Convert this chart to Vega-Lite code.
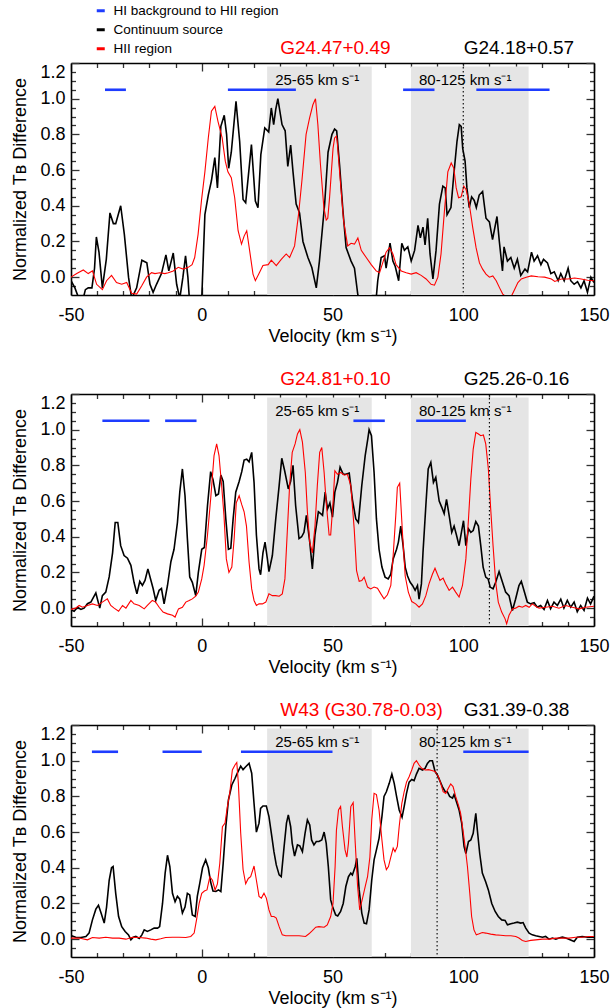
{
  "$schema": "https://vega.github.io/schema/vega-lite/v6.json",
  "autosize": {"type": "none"},
  "padding": {"left": 71, "top": 63, "right": 542, "bottom": 945},
  "background": "white",
  "spacing": 99,
  "bounds": "flush",
  "datasets": {
    "regions": [
      {"lo": 25, "hi": 65, "label": "25-65 km s⁻¹"},
      {"lo": 80, "hi": 125, "label": "80-125 km s⁻¹"}
    ],
    "hiSegments": [
      {"panel": 1, "series": "HI background to HII region", "from": -37, "to": -29},
      {"panel": 1, "series": "HI background to HII region", "from": 10, "to": 36},
      {"panel": 1, "series": "HI background to HII region", "from": 77, "to": 89},
      {"panel": 1, "series": "HI background to HII region", "from": 105, "to": 133},
      {"panel": 2, "series": "HI background to HII region", "from": -38, "to": -20},
      {"panel": 2, "series": "HI background to HII region", "from": -14, "to": -2},
      {"panel": 2, "series": "HI background to HII region", "from": 58, "to": 70},
      {"panel": 2, "series": "HI background to HII region", "from": 82, "to": 101},
      {"panel": 3, "series": "HI background to HII region", "from": -42, "to": -32},
      {"panel": 3, "series": "HI background to HII region", "from": -15, "to": 0},
      {"panel": 3, "series": "HI background to HII region", "from": 15, "to": 50},
      {"panel": 3, "series": "HI background to HII region", "from": 100, "to": 125}
    ],
    "markers": [
      {"panel": 1, "v": 100},
      {"panel": 2, "v": 110},
      {"panel": 3, "v": 90}
    ],
    "sources": [
      {"panel": 1, "name": "G24.47+0.49", "series": "HII region", "v": 30},
      {"panel": 1, "name": "G24.18+0.57", "series": "Continuum source", "v": 100.2},
      {"panel": 2, "name": "G24.81+0.10", "series": "HII region", "v": 30},
      {"panel": 2, "name": "G25.26-0.16", "series": "Continuum source", "v": 100.2},
      {"panel": 3, "name": "W43 (G30.78-0.03)", "series": "HII region", "v": 30},
      {"panel": 3, "name": "G31.39-0.38", "series": "Continuum source", "v": 100.2}
    ],
    "continuum": [
      {"panel":1,"v":-50,"tb":-0.02},{"panel":1,"v":-48.5,"tb":-0.06},{"panel":1,"v":-47,"tb":-0.12},{"panel":1,"v":-45.5,"tb":-0.13},{"panel":1,"v":-44.5,"tb":-0.07},{"panel":1,"v":-43.4,"tb":-0.06},{"panel":1,"v":-42,"tb":-0.06},{"panel":1,"v":-41,"tb":0.05},{"panel":1,"v":-40.3,"tb":0.225},{"panel":1,"v":-39.3,"tb":0.14},{"panel":1,"v":-38,"tb":-0.06},{"panel":1,"v":-36.5,"tb":0.1},{"panel":1,"v":-35.1,"tb":0.36},{"panel":1,"v":-33.8,"tb":0.3},{"panel":1,"v":-32.9,"tb":0.3},{"panel":1,"v":-31,"tb":0.4},{"panel":1,"v":-29.6,"tb":0.24},{"panel":1,"v":-28,"tb":0.0},{"panel":1,"v":-26.8,"tb":-0.12},{"panel":1,"v":-24.9,"tb":-0.06},{"panel":1,"v":-22.9,"tb":0.095},{"panel":1,"v":-21,"tb":0.08},{"panel":1,"v":-19.8,"tb":-0.04},{"panel":1,"v":-18.6,"tb":-0.085},{"panel":1,"v":-17.3,"tb":-0.04},{"panel":1,"v":-15.4,"tb":0.02},{"panel":1,"v":-13.7,"tb":0.125},{"panel":1,"v":-12.6,"tb":0.035},{"panel":1,"v":-10.9,"tb":0.135},{"panel":1,"v":-9.6,"tb":-0.04},{"panel":1,"v":-8.4,"tb":-0.12},{"panel":1,"v":-7.2,"tb":0.0},{"panel":1,"v":-6.2,"tb":0.12},{"panel":1,"v":-5.3,"tb":0.0},{"panel":1,"v":-4.6,"tb":-0.15},{"panel":1,"v":-2,"tb":-0.25},{"panel":1,"v":0,"tb":-0.12},{"panel":1,"v":1.2,"tb":0.35},{"panel":1,"v":2.5,"tb":0.46},{"panel":1,"v":3.7,"tb":0.54},{"panel":1,"v":5,"tb":0.67},{"panel":1,"v":6,"tb":0.5},{"panel":1,"v":7.3,"tb":0.845},{"panel":1,"v":8.6,"tb":0.907},{"panel":1,"v":9.5,"tb":0.8},{"panel":1,"v":10.3,"tb":0.61},{"panel":1,"v":11.3,"tb":0.7},{"panel":1,"v":13.1,"tb":0.985},{"panel":1,"v":14.5,"tb":0.76},{"panel":1,"v":15.8,"tb":0.435},{"panel":1,"v":16.8,"tb":0.417},{"panel":1,"v":19,"tb":0.743},{"panel":1,"v":20.5,"tb":0.426},{"panel":1,"v":21.5,"tb":0.389},{"panel":1,"v":22.6,"tb":0.687},{"panel":1,"v":24.1,"tb":0.836},{"panel":1,"v":25.6,"tb":0.814},{"panel":1,"v":26.6,"tb":0.948},{"panel":1,"v":27.5,"tb":0.855},{"panel":1,"v":28.3,"tb":0.94},{"panel":1,"v":29.1,"tb":1.0},{"panel":1,"v":30.7,"tb":0.855},{"panel":1,"v":31.9,"tb":0.82},{"panel":1,"v":32.9,"tb":0.62},{"panel":1,"v":34,"tb":0.74},{"panel":1,"v":34.9,"tb":0.59},{"panel":1,"v":36.1,"tb":0.41},{"panel":1,"v":37.4,"tb":0.36},{"panel":1,"v":38.7,"tb":0.2},{"panel":1,"v":40.6,"tb":0.11},{"panel":1,"v":42.1,"tb":0.054},{"panel":1,"v":43.8,"tb":-0.06},{"panel":1,"v":45,"tb":0.09},{"panel":1,"v":47,"tb":0.41},{"panel":1,"v":48.3,"tb":0.7},{"panel":1,"v":49.8,"tb":0.8},{"panel":1,"v":50.8,"tb":0.83},{"panel":1,"v":51.6,"tb":0.82},{"panel":1,"v":52.7,"tb":0.63},{"panel":1,"v":54,"tb":0.37},{"panel":1,"v":55.2,"tb":0.166},{"panel":1,"v":57.1,"tb":0.09},{"panel":1,"v":58.4,"tb":0.05},{"panel":1,"v":59.7,"tb":-0.1},{"panel":1,"v":61,"tb":-0.2},{"panel":1,"v":64,"tb":-0.25},{"panel":1,"v":66.7,"tb":-0.12},{"panel":1,"v":67.3,"tb":-0.02},{"panel":1,"v":68.6,"tb":0.11},{"panel":1,"v":69.9,"tb":0.12},{"panel":1,"v":70.5,"tb":0.05},{"panel":1,"v":72,"tb":0.19},{"panel":1,"v":73.1,"tb":0.09},{"panel":1,"v":74,"tb":0.06},{"panel":1,"v":75.3,"tb":-0.02},{"panel":1,"v":76.5,"tb":0.19},{"panel":1,"v":77.5,"tb":0.15},{"panel":1,"v":78.8,"tb":0.17},{"panel":1,"v":80.1,"tb":0.09},{"panel":1,"v":81.4,"tb":0.15},{"panel":1,"v":82.7,"tb":0.29},{"panel":1,"v":83.6,"tb":0.22},{"panel":1,"v":84.6,"tb":0.28},{"panel":1,"v":85.4,"tb":0.18},{"panel":1,"v":86.4,"tb":0.33},{"panel":1,"v":87.3,"tb":0.13},{"panel":1,"v":88.4,"tb":-0.01},{"panel":1,"v":89.6,"tb":0.15},{"panel":1,"v":90.9,"tb":0.41},{"panel":1,"v":92.2,"tb":0.51},{"panel":1,"v":93.1,"tb":0.5},{"panel":1,"v":93.8,"tb":0.35},{"panel":1,"v":95.3,"tb":0.39},{"panel":1,"v":96.3,"tb":0.56},{"panel":1,"v":97.6,"tb":0.76},{"panel":1,"v":98.5,"tb":0.855},{"panel":1,"v":99.2,"tb":0.845},{"panel":1,"v":99.8,"tb":0.72},{"panel":1,"v":100.7,"tb":0.65},{"panel":1,"v":101.4,"tb":0.5},{"panel":1,"v":102.3,"tb":0.39},{"panel":1,"v":103.2,"tb":0.45},{"panel":1,"v":104.2,"tb":0.43},{"panel":1,"v":105,"tb":0.39},{"panel":1,"v":106.1,"tb":0.46},{"panel":1,"v":107.4,"tb":0.48},{"panel":1,"v":108.7,"tb":0.33},{"panel":1,"v":110,"tb":0.31},{"panel":1,"v":111.2,"tb":0.21},{"panel":1,"v":112.9,"tb":0.34},{"panel":1,"v":113.8,"tb":0.2},{"panel":1,"v":115,"tb":0.035},{"panel":1,"v":115.6,"tb":0.17},{"panel":1,"v":116.9,"tb":0.09},{"panel":1,"v":118.2,"tb":0.11},{"panel":1,"v":119.5,"tb":0.05},{"panel":1,"v":120.7,"tb":0.1},{"panel":1,"v":122,"tb":0.01},{"panel":1,"v":123.6,"tb":0.045},{"panel":1,"v":124.6,"tb":0.03},{"panel":1,"v":126.1,"tb":0.14},{"panel":1,"v":127.1,"tb":0.09},{"panel":1,"v":128.4,"tb":0.12},{"panel":1,"v":129.7,"tb":0.07},{"panel":1,"v":130.7,"tb":0.1},{"panel":1,"v":132.2,"tb":0.08},{"panel":1,"v":133.5,"tb":0.02},{"panel":1,"v":134.8,"tb":0.03},{"panel":1,"v":136.3,"tb":-0.02},{"panel":1,"v":137.3,"tb":0.02},{"panel":1,"v":138.6,"tb":-0.02},{"panel":1,"v":140.1,"tb":0.05},{"panel":1,"v":141.1,"tb":-0.02},{"panel":1,"v":142.4,"tb":-0.04},{"panel":1,"v":143.7,"tb":-0.025},{"panel":1,"v":145,"tb":-0.06},{"panel":1,"v":146.2,"tb":-0.02},{"panel":1,"v":147.5,"tb":-0.085},{"panel":1,"v":148.8,"tb":0.0},{"panel":1,"v":150,"tb":-0.03},
      {"panel":2,"v":-50,"tb":-0.01},{"panel":2,"v":-48.8,"tb":-0.017},{"panel":2,"v":-47.5,"tb":0.005},{"panel":2,"v":-46.2,"tb":-0.007},{"panel":2,"v":-45,"tb":0.0},{"panel":2,"v":-43.7,"tb":0.025},{"panel":2,"v":-42.4,"tb":0.034},{"panel":2,"v":-40.5,"tb":0.085},{"panel":2,"v":-39,"tb":0.0},{"panel":2,"v":-38,"tb":0.07},{"panel":2,"v":-36.7,"tb":0.09},{"panel":2,"v":-35.4,"tb":0.175},{"panel":2,"v":-34.1,"tb":0.31},{"panel":2,"v":-33.1,"tb":0.48},{"panel":2,"v":-32.1,"tb":0.48},{"panel":2,"v":-31,"tb":0.35},{"panel":2,"v":-29.7,"tb":0.295},{"panel":2,"v":-28.4,"tb":0.28},{"panel":2,"v":-27.1,"tb":0.24},{"panel":2,"v":-25.9,"tb":0.145},{"panel":2,"v":-24.8,"tb":0.08},{"panel":2,"v":-23.7,"tb":0.15},{"panel":2,"v":-22.7,"tb":0.127},{"panel":2,"v":-21.7,"tb":0.155},{"panel":2,"v":-20.6,"tb":0.22},{"panel":2,"v":-19.6,"tb":0.165},{"panel":2,"v":-18.6,"tb":0.11},{"panel":2,"v":-17.6,"tb":0.043},{"panel":2,"v":-16.3,"tb":0.1},{"panel":2,"v":-15.4,"tb":0.11},{"panel":2,"v":-14.4,"tb":0.024},{"panel":2,"v":-13.1,"tb":0.127},{"panel":2,"v":-11.8,"tb":0.26},{"panel":2,"v":-10.6,"tb":0.33},{"panel":2,"v":-9.3,"tb":0.48},{"panel":2,"v":-8.4,"tb":0.65},{"panel":2,"v":-7.4,"tb":0.78},{"panel":2,"v":-6.4,"tb":0.63},{"panel":2,"v":-5.5,"tb":0.39},{"panel":2,"v":-4.6,"tb":0.175},{"panel":2,"v":-3.6,"tb":0.145},{"panel":2,"v":-2.3,"tb":0.07},{"panel":2,"v":-1.3,"tb":0.2},{"panel":2,"v":0,"tb":0.33},{"panel":2,"v":1,"tb":0.34},{"panel":2,"v":2.2,"tb":0.575},{"panel":2,"v":3.4,"tb":0.765},{"panel":2,"v":4.3,"tb":0.72},{"panel":2,"v":5.4,"tb":0.63},{"panel":2,"v":6.4,"tb":0.64},{"panel":2,"v":7.3,"tb":0.746},{"panel":2,"v":8.2,"tb":0.71},{"panel":2,"v":9.2,"tb":0.5},{"panel":2,"v":10.2,"tb":0.33},{"panel":2,"v":11.1,"tb":0.336},{"panel":2,"v":12,"tb":0.5},{"panel":2,"v":13,"tb":0.65},{"panel":2,"v":14.3,"tb":0.71},{"panel":2,"v":15.3,"tb":0.765},{"panel":2,"v":16.2,"tb":0.83},{"panel":2,"v":17.2,"tb":0.835},{"panel":2,"v":18.1,"tb":0.82},{"panel":2,"v":19.1,"tb":0.873},{"panel":2,"v":20,"tb":0.705},{"panel":2,"v":20.9,"tb":0.41},{"panel":2,"v":21.9,"tb":0.22},{"panel":2,"v":22.5,"tb":0.187},{"panel":2,"v":23.4,"tb":0.31},{"panel":2,"v":24.2,"tb":0.37},{"panel":2,"v":25.1,"tb":0.276},{"panel":2,"v":25.7,"tb":0.205},{"panel":2,"v":27,"tb":0.295},{"panel":2,"v":28.3,"tb":0.5},{"panel":2,"v":29.6,"tb":0.687},{"panel":2,"v":30.6,"tb":0.84},{"panel":2,"v":31.7,"tb":0.77},{"panel":2,"v":33.1,"tb":0.668},{"panel":2,"v":34,"tb":0.71},{"panel":2,"v":34.9,"tb":0.8},{"panel":2,"v":35.9,"tb":0.575},{"panel":2,"v":37.2,"tb":0.39},{"panel":2,"v":38.2,"tb":0.4},{"panel":2,"v":39.1,"tb":0.425},{"panel":2,"v":40,"tb":0.52},{"panel":2,"v":41.3,"tb":0.37},{"panel":2,"v":42.3,"tb":0.22},{"panel":2,"v":43.3,"tb":0.41},{"panel":2,"v":44.6,"tb":0.54},{"panel":2,"v":45.5,"tb":0.53},{"panel":2,"v":46.2,"tb":0.52},{"panel":2,"v":47.2,"tb":0.65},{"panel":2,"v":48.1,"tb":0.556},{"panel":2,"v":49,"tb":0.59},{"panel":2,"v":50,"tb":0.51},{"panel":2,"v":50.9,"tb":0.65},{"panel":2,"v":51.9,"tb":0.705},{"panel":2,"v":52.9,"tb":0.79},{"panel":2,"v":54.1,"tb":0.75},{"panel":2,"v":55.1,"tb":0.75},{"panel":2,"v":56.4,"tb":0.757},{"panel":2,"v":57.6,"tb":0.61},{"panel":2,"v":58.9,"tb":0.5},{"panel":2,"v":59.9,"tb":0.48},{"panel":2,"v":61.2,"tb":0.687},{"panel":2,"v":62.5,"tb":0.855},{"panel":2,"v":63.5,"tb":0.948},{"panel":2,"v":64,"tb":1.0},{"panel":2,"v":64.9,"tb":0.966},{"panel":2,"v":65.9,"tb":0.76},{"panel":2,"v":66.8,"tb":0.5},{"panel":2,"v":67.8,"tb":0.33},{"panel":2,"v":68.9,"tb":0.23},{"panel":2,"v":70.1,"tb":0.174},{"panel":2,"v":71.3,"tb":0.164},{"panel":2,"v":72.3,"tb":0.19},{"panel":2,"v":73.2,"tb":0.276},{"panel":2,"v":74.5,"tb":0.33},{"panel":2,"v":75.2,"tb":0.37},{"panel":2,"v":76.1,"tb":0.46},{"panel":2,"v":77,"tb":0.35},{"panel":2,"v":77.8,"tb":0.23},{"panel":2,"v":78.7,"tb":0.18},{"panel":2,"v":79.7,"tb":0.145},{"panel":2,"v":80.6,"tb":0.127},{"panel":2,"v":81.6,"tb":0.1},{"panel":2,"v":82.5,"tb":0.127},{"panel":2,"v":83.1,"tb":0.05},{"panel":2,"v":84,"tb":0.136},{"panel":2,"v":84.6,"tb":0.31},{"panel":2,"v":85.7,"tb":0.575},{"panel":2,"v":86.6,"tb":0.78},{"panel":2,"v":87.6,"tb":0.817},{"panel":2,"v":88.6,"tb":0.705},{"panel":2,"v":89.5,"tb":0.733},{"panel":2,"v":90.8,"tb":0.6},{"panel":2,"v":91.8,"tb":0.565},{"panel":2,"v":92.7,"tb":0.53},{"panel":2,"v":93.6,"tb":0.61},{"panel":2,"v":94.6,"tb":0.52},{"panel":2,"v":95.6,"tb":0.425},{"panel":2,"v":96.5,"tb":0.46},{"panel":2,"v":97.4,"tb":0.41},{"panel":2,"v":98.4,"tb":0.35},{"panel":2,"v":99.3,"tb":0.425},{"panel":2,"v":100.1,"tb":0.49},{"panel":2,"v":101,"tb":0.35},{"panel":2,"v":102,"tb":0.444},{"panel":2,"v":102.9,"tb":0.425},{"panel":2,"v":103.8,"tb":0.435},{"panel":2,"v":104.8,"tb":0.485},{"panel":2,"v":105.8,"tb":0.46},{"panel":2,"v":106.7,"tb":0.35},{"panel":2,"v":107.6,"tb":0.23},{"panel":2,"v":108.6,"tb":0.174},{"panel":2,"v":109.5,"tb":0.164},{"panel":2,"v":110.3,"tb":0.118},{"panel":2,"v":111.4,"tb":0.108},{"panel":2,"v":112.4,"tb":0.145},{"panel":2,"v":113.7,"tb":0.205},{"panel":2,"v":115,"tb":0.145},{"panel":2,"v":116.2,"tb":0.09},{"panel":2,"v":117.5,"tb":0.07},{"panel":2,"v":118.8,"tb":-0.013},{"panel":2,"v":120,"tb":0.05},{"panel":2,"v":121.3,"tb":0.127},{"panel":2,"v":122.2,"tb":0.15},{"panel":2,"v":123.2,"tb":0.1},{"panel":2,"v":124.5,"tb":0.034},{"panel":2,"v":125.8,"tb":0.024},{"panel":2,"v":127.1,"tb":0.03},{"panel":2,"v":128.3,"tb":0.005},{"panel":2,"v":129.6,"tb":0.015},{"panel":2,"v":130.9,"tb":-0.007},{"panel":2,"v":132.2,"tb":0.043},{"panel":2,"v":133.4,"tb":-0.004},{"panel":2,"v":134.7,"tb":0.034},{"panel":2,"v":136,"tb":0.015},{"panel":2,"v":137.3,"tb":0.05},{"panel":2,"v":138.5,"tb":0.0},{"panel":2,"v":139.8,"tb":0.043},{"panel":2,"v":141.1,"tb":0.005},{"panel":2,"v":142.4,"tb":0.034},{"panel":2,"v":143.6,"tb":-0.02},{"panel":2,"v":144.9,"tb":0.015},{"panel":2,"v":146.2,"tb":-0.013},{"panel":2,"v":147.5,"tb":0.056},{"panel":2,"v":148.7,"tb":0.024},{"panel":2,"v":150,"tb":0.067},
      {"panel":3,"v":-50,"tb":0.02},{"panel":3,"v":-48.2,"tb":0.011},{"panel":3,"v":-46.2,"tb":0.009},{"panel":3,"v":-44.3,"tb":0.015},{"panel":3,"v":-43.1,"tb":0.034},{"panel":3,"v":-41.8,"tb":0.108},{"panel":3,"v":-40.5,"tb":0.168},{"panel":3,"v":-39.5,"tb":0.19},{"panel":3,"v":-38.5,"tb":0.146},{"panel":3,"v":-37.3,"tb":0.09},{"panel":3,"v":-36.4,"tb":0.18},{"panel":3,"v":-35.4,"tb":0.33},{"panel":3,"v":-34.5,"tb":0.4},{"panel":3,"v":-33.9,"tb":0.407},{"panel":3,"v":-32.9,"tb":0.257},{"panel":3,"v":-31.8,"tb":0.127},{"panel":3,"v":-30.6,"tb":0.07},{"panel":3,"v":-29.3,"tb":0.043},{"panel":3,"v":-28,"tb":0.024},{"panel":3,"v":-27.1,"tb":-0.004},{"panel":3,"v":-26.2,"tb":0.011},{"panel":3,"v":-25.2,"tb":0.015},{"panel":3,"v":-23.9,"tb":0.004},{"panel":3,"v":-22.9,"tb":0.024},{"panel":3,"v":-22,"tb":0.052},{"panel":3,"v":-20.8,"tb":0.043},{"panel":3,"v":-19.5,"tb":0.052},{"panel":3,"v":-18.2,"tb":0.062},{"panel":3,"v":-16.9,"tb":0.062},{"panel":3,"v":-16.1,"tb":0.07},{"panel":3,"v":-15,"tb":0.2},{"panel":3,"v":-14,"tb":0.37},{"panel":3,"v":-13.1,"tb":0.47},{"panel":3,"v":-12.2,"tb":0.407},{"panel":3,"v":-11.2,"tb":0.257},{"panel":3,"v":-10.2,"tb":0.21},{"panel":3,"v":-9.3,"tb":0.24},{"panel":3,"v":-8.4,"tb":0.224},{"panel":3,"v":-7.4,"tb":0.146},{"panel":3,"v":-6.4,"tb":0.18},{"panel":3,"v":-5.5,"tb":0.257},{"panel":3,"v":-4.6,"tb":0.248},{"panel":3,"v":-3.6,"tb":0.136},{"panel":3,"v":-2.5,"tb":0.127},{"panel":3,"v":-1.7,"tb":0.24},{"panel":3,"v":-0.8,"tb":0.31},{"panel":3,"v":0.3,"tb":0.4},{"panel":3,"v":1.5,"tb":0.444},{"panel":3,"v":2.5,"tb":0.4},{"panel":3,"v":3.4,"tb":0.32},{"panel":3,"v":4.3,"tb":0.27},{"panel":3,"v":5.4,"tb":0.267},{"panel":3,"v":6.4,"tb":0.276},{"panel":3,"v":7.3,"tb":0.267},{"panel":3,"v":8.2,"tb":0.425},{"panel":3,"v":9.2,"tb":0.63},{"panel":3,"v":10.2,"tb":0.78},{"panel":3,"v":11.5,"tb":0.864},{"panel":3,"v":12.7,"tb":0.9},{"panel":3,"v":13.6,"tb":0.93},{"panel":3,"v":14.9,"tb":0.97},{"panel":3,"v":15.8,"tb":0.95},{"panel":3,"v":16.8,"tb":0.966},{"panel":3,"v":18.1,"tb":0.985},{"panel":3,"v":19.1,"tb":0.93},{"panel":3,"v":20,"tb":0.76},{"panel":3,"v":20.9,"tb":0.6},{"panel":3,"v":21.9,"tb":0.65},{"panel":3,"v":22.5,"tb":0.733},{"panel":3,"v":23.4,"tb":0.746},{"panel":3,"v":24.7,"tb":0.746},{"panel":3,"v":25.7,"tb":0.687},{"panel":3,"v":26.8,"tb":0.575},{"panel":3,"v":27.6,"tb":0.49},{"panel":3,"v":28.5,"tb":0.416},{"panel":3,"v":29.6,"tb":0.36},{"panel":3,"v":30.4,"tb":0.35},{"panel":3,"v":31.5,"tb":0.52},{"panel":3,"v":32.4,"tb":0.65},{"panel":3,"v":33.1,"tb":0.696},{"panel":3,"v":34,"tb":0.63},{"panel":3,"v":34.6,"tb":0.537},{"panel":3,"v":35.5,"tb":0.466},{"panel":3,"v":36.6,"tb":0.528},{"panel":3,"v":37.5,"tb":0.523},{"panel":3,"v":38.5,"tb":0.49},{"panel":3,"v":39.5,"tb":0.593},{"panel":3,"v":40.4,"tb":0.668},{"panel":3,"v":41.3,"tb":0.64},{"panel":3,"v":42,"tb":0.556},{"panel":3,"v":42.9,"tb":0.528},{"panel":3,"v":43.8,"tb":0.547},{"panel":3,"v":44.8,"tb":0.547},{"panel":3,"v":45.9,"tb":0.556},{"panel":3,"v":46.8,"tb":0.6},{"panel":3,"v":47.6,"tb":0.537},{"panel":3,"v":48.4,"tb":0.407},{"panel":3,"v":49.3,"tb":0.22},{"panel":3,"v":50.2,"tb":0.174},{"panel":3,"v":51.2,"tb":0.136},{"panel":3,"v":52,"tb":0.13},{"panel":3,"v":53.1,"tb":0.155},{"panel":3,"v":54.1,"tb":0.2},{"panel":3,"v":55.1,"tb":0.295},{"panel":3,"v":56.1,"tb":0.35},{"panel":3,"v":57,"tb":0.37},{"panel":3,"v":57.6,"tb":0.36},{"panel":3,"v":58.7,"tb":0.407},{"panel":3,"v":59.3,"tb":0.453},{"panel":3,"v":60.2,"tb":0.276},{"panel":3,"v":61.2,"tb":0.146},{"panel":3,"v":62.1,"tb":0.09},{"panel":3,"v":63,"tb":0.086},{"panel":3,"v":64,"tb":0.164},{"panel":3,"v":65,"tb":0.33},{"panel":3,"v":65.9,"tb":0.444},{"panel":3,"v":66.8,"tb":0.5},{"panel":3,"v":67.8,"tb":0.565},{"panel":3,"v":68.9,"tb":0.687},{"panel":3,"v":69.7,"tb":0.8},{"panel":3,"v":70.6,"tb":0.826},{"panel":3,"v":71.7,"tb":0.873},{"panel":3,"v":72.7,"tb":0.925},{"panel":3,"v":73.6,"tb":0.873},{"panel":3,"v":74.5,"tb":0.8},{"panel":3,"v":75.5,"tb":0.724},{"panel":3,"v":76.6,"tb":0.683},{"panel":3,"v":77.4,"tb":0.743},{"panel":3,"v":78.3,"tb":0.817},{"panel":3,"v":79.3,"tb":0.88},{"panel":3,"v":80.3,"tb":0.895},{"panel":3,"v":81.2,"tb":0.888},{"panel":3,"v":82.1,"tb":0.925},{"panel":3,"v":83.1,"tb":0.957},{"panel":3,"v":84.4,"tb":0.948},{"panel":3,"v":85.4,"tb":0.957},{"panel":3,"v":86.3,"tb":0.985},{"panel":3,"v":87.2,"tb":1.0},{"panel":3,"v":88.2,"tb":1.0},{"panel":3,"v":89.2,"tb":0.94},{"panel":3,"v":90.1,"tb":0.92},{"panel":3,"v":91,"tb":0.89},{"panel":3,"v":92,"tb":0.855},{"panel":3,"v":93.1,"tb":0.826},{"panel":3,"v":93.9,"tb":0.826},{"panel":3,"v":94.8,"tb":0.8},{"panel":3,"v":95.9,"tb":0.79},{"panel":3,"v":96.5,"tb":0.81},{"panel":3,"v":97.4,"tb":0.77},{"panel":3,"v":98.4,"tb":0.724},{"panel":3,"v":99.4,"tb":0.65},{"panel":3,"v":100.3,"tb":0.52},{"panel":3,"v":101,"tb":0.48},{"panel":3,"v":102,"tb":0.547},{"panel":3,"v":102.9,"tb":0.556},{"panel":3,"v":103.8,"tb":0.593},{"panel":3,"v":104.8,"tb":0.705},{"panel":3,"v":105.4,"tb":0.61},{"panel":3,"v":106.3,"tb":0.48},{"panel":3,"v":107.3,"tb":0.37},{"panel":3,"v":108.6,"tb":0.32},{"panel":3,"v":109.6,"tb":0.276},{"panel":3,"v":110.9,"tb":0.2},{"panel":3,"v":112.2,"tb":0.155},{"panel":3,"v":113.4,"tb":0.127},{"panel":3,"v":114.7,"tb":0.108},{"panel":3,"v":116,"tb":0.105},{"panel":3,"v":116.9,"tb":0.08},{"panel":3,"v":118.2,"tb":0.086},{"panel":3,"v":119.4,"tb":0.09},{"panel":3,"v":120.7,"tb":0.095},{"panel":3,"v":122,"tb":0.09},{"panel":3,"v":122.9,"tb":0.093},{"panel":3,"v":123.9,"tb":0.062},{"panel":3,"v":125.2,"tb":0.034},{"panel":3,"v":126.4,"tb":0.024},{"panel":3,"v":127.7,"tb":0.019},{"panel":3,"v":129,"tb":0.015},{"panel":3,"v":130.3,"tb":0.011},{"panel":3,"v":131.5,"tb":0.015},{"panel":3,"v":132.8,"tb":0.0},{"panel":3,"v":134.1,"tb":0.006},{"panel":3,"v":135.4,"tb":0.0},{"panel":3,"v":136.6,"tb":0.006},{"panel":3,"v":137.9,"tb":0.011},{"panel":3,"v":139.2,"tb":0.006},{"panel":3,"v":140.4,"tb":0.0},{"panel":3,"v":142.4,"tb":-0.013},{"panel":3,"v":143.6,"tb":0.011},{"panel":3,"v":145.5,"tb":0.015},{"panel":3,"v":147.5,"tb":0.011},{"panel":3,"v":150,"tb":0.011}
    ],
    "hiiRegion": [
      {"panel":1,"v":-50,"tb":0.0},{"panel":1,"v":-47.8,"tb":0.02},{"panel":1,"v":-45.3,"tb":0.04},{"panel":1,"v":-43.4,"tb":0.02},{"panel":1,"v":-41.8,"tb":0.035},{"panel":1,"v":-40.2,"tb":-0.04},{"panel":1,"v":-38,"tb":-0.07},{"panel":1,"v":-36.4,"tb":-0.02},{"panel":1,"v":-34.5,"tb":0.01},{"panel":1,"v":-32.6,"tb":-0.03},{"panel":1,"v":-30.6,"tb":-0.04},{"panel":1,"v":-28.7,"tb":-0.03},{"panel":1,"v":-26.8,"tb":-0.09},{"panel":1,"v":-24.9,"tb":-0.095},{"panel":1,"v":-23,"tb":-0.05},{"panel":1,"v":-21.1,"tb":0.0},{"panel":1,"v":-19.2,"tb":0.025},{"panel":1,"v":-17.9,"tb":0.02},{"panel":1,"v":-16,"tb":0.025},{"panel":1,"v":-14.1,"tb":0.02},{"panel":1,"v":-12.8,"tb":0.025},{"panel":1,"v":-10.9,"tb":0.035},{"panel":1,"v":-9,"tb":0.055},{"panel":1,"v":-7.1,"tb":0.045},{"panel":1,"v":-5.2,"tb":0.055},{"panel":1,"v":-3.7,"tb":0.07},{"panel":1,"v":-2.7,"tb":0.11},{"panel":1,"v":-1.4,"tb":0.24},{"panel":1,"v":-0.1,"tb":0.43},{"panel":1,"v":1.2,"tb":0.59},{"panel":1,"v":2.5,"tb":0.78},{"panel":1,"v":3.7,"tb":0.93},{"panel":1,"v":5,"tb":0.957},{"panel":1,"v":6.2,"tb":0.873},{"panel":1,"v":7.8,"tb":0.78},{"panel":1,"v":9,"tb":0.65},{"panel":1,"v":10,"tb":0.59},{"panel":1,"v":11.3,"tb":0.557},{"panel":1,"v":12.6,"tb":0.445},{"panel":1,"v":13.9,"tb":0.26},{"panel":1,"v":15.2,"tb":0.185},{"panel":1,"v":16.2,"tb":0.23},{"panel":1,"v":17.2,"tb":0.26},{"panel":1,"v":18.3,"tb":0.15},{"panel":1,"v":19.6,"tb":0.017},{"panel":1,"v":20.5,"tb":-0.02},{"panel":1,"v":21.8,"tb":0.017},{"panel":1,"v":23.4,"tb":0.065},{"panel":1,"v":25.4,"tb":0.07},{"panel":1,"v":26.6,"tb":0.095},{"panel":1,"v":28.5,"tb":0.065},{"panel":1,"v":30.4,"tb":0.1},{"panel":1,"v":32.3,"tb":0.13},{"panel":1,"v":33.6,"tb":0.11},{"panel":1,"v":35.5,"tb":0.175},{"panel":1,"v":37,"tb":0.35},{"panel":1,"v":38.3,"tb":0.54},{"panel":1,"v":39.9,"tb":0.8},{"panel":1,"v":41.2,"tb":0.89},{"panel":1,"v":42.5,"tb":0.966},{"panel":1,"v":43.5,"tb":1.0},{"panel":1,"v":44.4,"tb":0.855},{"panel":1,"v":45.4,"tb":0.63},{"panel":1,"v":46.7,"tb":0.39},{"panel":1,"v":47.6,"tb":0.32},{"panel":1,"v":48.2,"tb":0.33},{"panel":1,"v":48.9,"tb":0.45},{"panel":1,"v":49.5,"tb":0.575},{"panel":1,"v":50.2,"tb":0.72},{"panel":1,"v":50.8,"tb":0.78},{"panel":1,"v":51.5,"tb":0.79},{"panel":1,"v":51.8,"tb":0.76},{"panel":1,"v":53.1,"tb":0.52},{"panel":1,"v":54.3,"tb":0.31},{"panel":1,"v":55.8,"tb":0.175},{"panel":1,"v":57.1,"tb":0.19},{"panel":1,"v":58.4,"tb":0.185},{"panel":1,"v":59.7,"tb":0.22},{"panel":1,"v":61,"tb":0.15},{"panel":1,"v":62.9,"tb":0.11},{"panel":1,"v":64.8,"tb":0.07},{"panel":1,"v":66.7,"tb":0.035},{"panel":1,"v":68,"tb":0.025},{"panel":1,"v":69.2,"tb":0.08},{"panel":1,"v":70.5,"tb":0.14},{"panel":1,"v":71.8,"tb":0.165},{"panel":1,"v":73.1,"tb":0.13},{"panel":1,"v":74.3,"tb":0.07},{"panel":1,"v":76.3,"tb":0.035},{"panel":1,"v":78.2,"tb":0.025},{"panel":1,"v":80.1,"tb":0.017},{"panel":1,"v":82,"tb":0.025},{"panel":1,"v":83.9,"tb":0.01},{"panel":1,"v":85.8,"tb":-0.01},{"panel":1,"v":87.7,"tb":-0.04},{"panel":1,"v":89,"tb":-0.045},{"panel":1,"v":90.3,"tb":0.0},{"panel":1,"v":91.5,"tb":0.13},{"panel":1,"v":92.8,"tb":0.37},{"panel":1,"v":94.1,"tb":0.59},{"panel":1,"v":95.4,"tb":0.64},{"panel":1,"v":96.4,"tb":0.61},{"panel":1,"v":97.3,"tb":0.5},{"panel":1,"v":98.2,"tb":0.445},{"panel":1,"v":99.2,"tb":0.45},{"panel":1,"v":100.2,"tb":0.51},{"panel":1,"v":101.1,"tb":0.49},{"panel":1,"v":102.3,"tb":0.41},{"panel":1,"v":103.6,"tb":0.28},{"panel":1,"v":104.9,"tb":0.165},{"panel":1,"v":106.2,"tb":0.08},{"panel":1,"v":107.4,"tb":0.045},{"panel":1,"v":108.7,"tb":0.017},{"panel":1,"v":110,"tb":0.0},{"panel":1,"v":111.3,"tb":0.007},{"panel":1,"v":112.6,"tb":-0.02},{"panel":1,"v":113.9,"tb":-0.06},{"panel":1,"v":115.1,"tb":-0.095},{"panel":1,"v":116.4,"tb":-0.11},{"panel":1,"v":118.3,"tb":-0.11},{"panel":1,"v":119.6,"tb":-0.07},{"panel":1,"v":120.9,"tb":-0.03},{"panel":1,"v":122.2,"tb":-0.01},{"panel":1,"v":124.1,"tb":0.0},{"panel":1,"v":126,"tb":0.007},{"panel":1,"v":128.6,"tb":0.002},{"panel":1,"v":131.1,"tb":0.0},{"panel":1,"v":133.7,"tb":-0.01},{"panel":1,"v":135,"tb":-0.024},{"panel":1,"v":137.5,"tb":-0.01},{"panel":1,"v":140,"tb":-0.01},{"panel":1,"v":142.6,"tb":-0.005},{"panel":1,"v":145.1,"tb":-0.01},{"panel":1,"v":147.6,"tb":-0.017},{"panel":1,"v":150,"tb":-0.02},
      {"panel":2,"v":-50,"tb":-0.007},{"panel":2,"v":-48.2,"tb":0.0},{"panel":2,"v":-46.9,"tb":0.015},{"panel":2,"v":-45.6,"tb":0.005},{"panel":2,"v":-43.7,"tb":0.015},{"panel":2,"v":-41.8,"tb":0.024},{"panel":2,"v":-39.9,"tb":0.015},{"panel":2,"v":-38,"tb":0.034},{"panel":2,"v":-36.1,"tb":0.052},{"panel":2,"v":-34.8,"tb":0.015},{"panel":2,"v":-33.5,"tb":0.0},{"panel":2,"v":-31.8,"tb":-0.017},{"panel":2,"v":-30.3,"tb":0.015},{"panel":2,"v":-29,"tb":0.0},{"panel":2,"v":-27.1,"tb":0.043},{"panel":2,"v":-25.9,"tb":0.024},{"panel":2,"v":-23.9,"tb":0.015},{"panel":2,"v":-22,"tb":-0.004},{"panel":2,"v":-20.8,"tb":0.015},{"panel":2,"v":-18.9,"tb":0.043},{"panel":2,"v":-17.6,"tb":0.034},{"panel":2,"v":-16.3,"tb":0.005},{"panel":2,"v":-14.8,"tb":-0.022},{"panel":2,"v":-13.1,"tb":-0.032},{"panel":2,"v":-11.2,"tb":-0.04},{"panel":2,"v":-10.2,"tb":-0.05},{"panel":2,"v":-8.9,"tb":-0.004},{"panel":2,"v":-7.4,"tb":0.005},{"panel":2,"v":-6.1,"tb":0.034},{"panel":2,"v":-4.8,"tb":0.043},{"panel":2,"v":-3.6,"tb":0.052},{"panel":2,"v":-2.3,"tb":0.067},{"panel":2,"v":-1.3,"tb":0.09},{"panel":2,"v":0,"tb":0.164},{"panel":2,"v":0.9,"tb":0.24},{"panel":2,"v":2.2,"tb":0.41},{"panel":2,"v":3.4,"tb":0.61},{"panel":2,"v":4.7,"tb":0.855},{"panel":2,"v":5.7,"tb":0.92},{"panel":2,"v":6.6,"tb":0.855},{"panel":2,"v":7.6,"tb":0.687},{"panel":2,"v":8.5,"tb":0.52},{"panel":2,"v":9.4,"tb":0.276},{"panel":2,"v":10.4,"tb":0.2},{"panel":2,"v":11.5,"tb":0.23},{"panel":2,"v":12.4,"tb":0.39},{"panel":2,"v":13.2,"tb":0.59},{"panel":2,"v":14.3,"tb":0.63},{"panel":2,"v":15.3,"tb":0.58},{"panel":2,"v":16.2,"tb":0.54},{"panel":2,"v":17.1,"tb":0.46},{"panel":2,"v":18.1,"tb":0.257},{"panel":2,"v":19.1,"tb":0.108},{"panel":2,"v":20,"tb":0.043},{"panel":2,"v":20.9,"tb":0.015},{"panel":2,"v":21.9,"tb":0.024},{"panel":2,"v":23.2,"tb":0.024},{"panel":2,"v":24.5,"tb":0.034},{"panel":2,"v":25.7,"tb":0.08},{"panel":2,"v":27,"tb":0.07},{"panel":2,"v":28.3,"tb":0.07},{"panel":2,"v":29.6,"tb":0.067},{"panel":2,"v":30.8,"tb":0.08},{"panel":2,"v":31.8,"tb":0.164},{"panel":2,"v":32.7,"tb":0.425},{"panel":2,"v":33.6,"tb":0.687},{"panel":2,"v":34.6,"tb":0.873},{"panel":2,"v":35.7,"tb":0.92},{"panel":2,"v":36.6,"tb":0.976},{"panel":2,"v":37.5,"tb":1.0},{"panel":2,"v":38.5,"tb":0.93},{"panel":2,"v":39.6,"tb":0.76},{"panel":2,"v":40.4,"tb":0.54},{"panel":2,"v":41.3,"tb":0.37},{"panel":2,"v":42.3,"tb":0.31},{"panel":2,"v":43.3,"tb":0.46},{"panel":2,"v":44.2,"tb":0.687},{"panel":2,"v":45.1,"tb":0.873},{"panel":2,"v":45.9,"tb":0.9},{"panel":2,"v":46.8,"tb":0.76},{"panel":2,"v":47.6,"tb":0.59},{"panel":2,"v":48.7,"tb":0.41},{"panel":2,"v":49.3,"tb":0.41},{"panel":2,"v":50.2,"tb":0.59},{"panel":2,"v":50.9,"tb":0.77},{"panel":2,"v":51.9,"tb":0.75},{"panel":2,"v":53.2,"tb":0.76},{"panel":2,"v":54.5,"tb":0.745},{"panel":2,"v":55.7,"tb":0.75},{"panel":2,"v":57,"tb":0.687},{"panel":2,"v":58.3,"tb":0.444},{"panel":2,"v":59.2,"tb":0.21},{"panel":2,"v":60.2,"tb":0.15},{"panel":2,"v":61.2,"tb":0.155},{"panel":2,"v":62.1,"tb":0.174},{"panel":2,"v":63.4,"tb":0.118},{"panel":2,"v":64.6,"tb":0.108},{"panel":2,"v":65.9,"tb":0.118},{"panel":2,"v":67.2,"tb":0.112},{"panel":2,"v":68.5,"tb":0.08},{"panel":2,"v":69.7,"tb":0.052},{"panel":2,"v":71,"tb":0.075},{"panel":2,"v":72.3,"tb":0.127},{"panel":2,"v":73.2,"tb":0.295},{"panel":2,"v":74.2,"tb":0.52},{"panel":2,"v":74.8,"tb":0.677},{"panel":2,"v":75.7,"tb":0.7},{"panel":2,"v":76.8,"tb":0.41},{"panel":2,"v":77.8,"tb":0.18},{"panel":2,"v":79,"tb":0.09},{"panel":2,"v":80.3,"tb":0.037},{"panel":2,"v":81.8,"tb":0.024},{"panel":2,"v":83.1,"tb":0.005},{"panel":2,"v":84.4,"tb":0.024},{"panel":2,"v":85.7,"tb":0.07},{"panel":2,"v":86.9,"tb":0.136},{"panel":2,"v":88.2,"tb":0.19},{"panel":2,"v":89.2,"tb":0.224},{"panel":2,"v":90.1,"tb":0.19},{"panel":2,"v":91.1,"tb":0.155},{"panel":2,"v":92.3,"tb":0.168},{"panel":2,"v":93.3,"tb":0.136},{"panel":2,"v":94.6,"tb":0.1},{"panel":2,"v":95.9,"tb":0.118},{"panel":2,"v":97.1,"tb":0.09},{"panel":2,"v":98.4,"tb":0.062},{"panel":2,"v":99.7,"tb":0.127},{"panel":2,"v":101,"tb":0.276},{"panel":2,"v":102,"tb":0.5},{"panel":2,"v":102.9,"tb":0.724},{"panel":2,"v":103.8,"tb":0.89},{"panel":2,"v":104.8,"tb":0.985},{"panel":2,"v":105.8,"tb":0.976},{"panel":2,"v":106.7,"tb":0.966},{"panel":2,"v":107.7,"tb":0.97},{"panel":2,"v":108.6,"tb":0.92},{"panel":2,"v":109.6,"tb":0.78},{"panel":2,"v":110.5,"tb":0.556},{"panel":2,"v":111.4,"tb":0.35},{"panel":2,"v":112.4,"tb":0.146},{"panel":2,"v":113.4,"tb":0.034},{"panel":2,"v":114.7,"tb":-0.022},{"panel":2,"v":116,"tb":-0.06},{"panel":2,"v":116.6,"tb":-0.088},{"panel":2,"v":117.5,"tb":-0.04},{"panel":2,"v":118.8,"tb":-0.004},{"panel":2,"v":120,"tb":0.0},{"panel":2,"v":121.3,"tb":0.011},{"panel":2,"v":122.6,"tb":0.005},{"panel":2,"v":123.9,"tb":0.015},{"panel":2,"v":125.2,"tb":0.005},{"panel":2,"v":126.4,"tb":0.024},{"panel":2,"v":127.7,"tb":0.011},{"panel":2,"v":129,"tb":0.0},{"panel":2,"v":131.5,"tb":0.005},{"panel":2,"v":134.1,"tb":0.011},{"panel":2,"v":136.6,"tb":0.0},{"panel":2,"v":139.2,"tb":0.015},{"panel":2,"v":141.7,"tb":0.005},{"panel":2,"v":144.3,"tb":-0.004},{"panel":2,"v":146.8,"tb":0.005},{"panel":2,"v":150,"tb":0.011},
      {"panel":3,"v":-50,"tb":0.006},{"panel":3,"v":-46.9,"tb":0.006},{"panel":3,"v":-43.7,"tb":-0.004},{"panel":3,"v":-41.8,"tb":0.009},{"panel":3,"v":-39.2,"tb":0.006},{"panel":3,"v":-36.7,"tb":0.011},{"panel":3,"v":-34.1,"tb":0.006},{"panel":3,"v":-31.6,"tb":0.006},{"panel":3,"v":-29,"tb":0.0},{"panel":3,"v":-26.5,"tb":0.011},{"panel":3,"v":-23.9,"tb":0.009},{"panel":3,"v":-21.4,"tb":0.006},{"panel":3,"v":-19.5,"tb":0.0},{"panel":3,"v":-17.6,"tb":-0.004},{"panel":3,"v":-15.7,"tb":0.002},{"panel":3,"v":-13.8,"tb":0.009},{"panel":3,"v":-11.2,"tb":0.011},{"panel":3,"v":-8.7,"tb":0.011},{"panel":3,"v":-6.1,"tb":0.009},{"panel":3,"v":-4.2,"tb":0.015},{"panel":3,"v":-2.9,"tb":0.034},{"panel":3,"v":-2,"tb":0.108},{"panel":3,"v":-1,"tb":0.2},{"panel":3,"v":0,"tb":0.257},{"panel":3,"v":1,"tb":0.27},{"panel":3,"v":2,"tb":0.276},{"panel":3,"v":3.1,"tb":0.35},{"panel":3,"v":4.1,"tb":0.33},{"panel":3,"v":5.1,"tb":0.276},{"panel":3,"v":6,"tb":0.31},{"panel":3,"v":6.9,"tb":0.425},{"panel":3,"v":7.9,"tb":0.63},{"panel":3,"v":8.9,"tb":0.65},{"panel":3,"v":9.8,"tb":0.743},{"panel":3,"v":10.7,"tb":0.817},{"panel":3,"v":11.7,"tb":0.948},{"panel":3,"v":12.7,"tb":0.976},{"panel":3,"v":13.4,"tb":0.99},{"panel":3,"v":14,"tb":0.873},{"panel":3,"v":14.9,"tb":0.593},{"panel":3,"v":15.8,"tb":0.39},{"panel":3,"v":16.8,"tb":0.31},{"panel":3,"v":17.8,"tb":0.34},{"panel":3,"v":18.7,"tb":0.35},{"panel":3,"v":20,"tb":0.41},{"panel":3,"v":20.9,"tb":0.33},{"panel":3,"v":21.9,"tb":0.24},{"panel":3,"v":22.8,"tb":0.23},{"panel":3,"v":23.8,"tb":0.257},{"panel":3,"v":24.7,"tb":0.23},{"panel":3,"v":25.7,"tb":0.164},{"panel":3,"v":26.6,"tb":0.127},{"panel":3,"v":27.6,"tb":0.127},{"panel":3,"v":28.5,"tb":0.118},{"panel":3,"v":29.6,"tb":0.07},{"panel":3,"v":30.8,"tb":0.024},{"panel":3,"v":32.1,"tb":0.019},{"panel":3,"v":34.6,"tb":0.019},{"panel":3,"v":37.2,"tb":0.019},{"panel":3,"v":39.7,"tb":0.015},{"panel":3,"v":41,"tb":0.03},{"panel":3,"v":42.3,"tb":0.048},{"panel":3,"v":43.6,"tb":0.067},{"panel":3,"v":44.8,"tb":0.07},{"panel":3,"v":46.8,"tb":0.067},{"panel":3,"v":48,"tb":0.08},{"panel":3,"v":49.3,"tb":0.127},{"panel":3,"v":50.2,"tb":0.2},{"panel":3,"v":51,"tb":0.407},{"panel":3,"v":51.5,"tb":0.61},{"panel":3,"v":52.3,"tb":0.724},{"panel":3,"v":53.1,"tb":0.743},{"panel":3,"v":53.8,"tb":0.63},{"panel":3,"v":54.8,"tb":0.5},{"panel":3,"v":55.5,"tb":0.46},{"panel":3,"v":56.1,"tb":0.537},{"panel":3,"v":57,"tb":0.743},{"panel":3,"v":57.9,"tb":0.765},{"panel":3,"v":58.7,"tb":0.537},{"panel":3,"v":59.6,"tb":0.295},{"panel":3,"v":60.4,"tb":0.164},{"panel":3,"v":61.5,"tb":0.23},{"panel":3,"v":62.5,"tb":0.295},{"panel":3,"v":63.4,"tb":0.35},{"panel":3,"v":64.3,"tb":0.46},{"panel":3,"v":65,"tb":0.668},{"panel":3,"v":65.9,"tb":0.817},{"panel":3,"v":66.8,"tb":0.81},{"panel":3,"v":67.8,"tb":0.724},{"panel":3,"v":68.9,"tb":0.556},{"panel":3,"v":69.7,"tb":0.444},{"panel":3,"v":70.6,"tb":0.39},{"panel":3,"v":71.4,"tb":0.407},{"panel":3,"v":72.3,"tb":0.46},{"panel":3,"v":73.2,"tb":0.51},{"panel":3,"v":73.9,"tb":0.49},{"panel":3,"v":74.8,"tb":0.52},{"panel":3,"v":75.5,"tb":0.63},{"panel":3,"v":76.5,"tb":0.76},{"panel":3,"v":77.4,"tb":0.826},{"panel":3,"v":78.3,"tb":0.88},{"panel":3,"v":79.3,"tb":0.91},{"panel":3,"v":80.3,"tb":0.948},{"panel":3,"v":81.2,"tb":0.985},{"panel":3,"v":82.1,"tb":1.0},{"panel":3,"v":83.1,"tb":0.976},{"panel":3,"v":84.1,"tb":0.957},{"panel":3,"v":85.4,"tb":0.948},{"panel":3,"v":86.7,"tb":0.95},{"panel":3,"v":88,"tb":0.945},{"panel":3,"v":89.2,"tb":0.94},{"panel":3,"v":90.5,"tb":0.91},{"panel":3,"v":91.4,"tb":0.873},{"panel":3,"v":92.3,"tb":0.826},{"panel":3,"v":93.3,"tb":0.817},{"panel":3,"v":94.3,"tb":0.845},{"panel":3,"v":95.2,"tb":0.87},{"panel":3,"v":96.1,"tb":0.855},{"panel":3,"v":97.1,"tb":0.8},{"panel":3,"v":98.2,"tb":0.75},{"panel":3,"v":99,"tb":0.705},{"panel":3,"v":99.9,"tb":0.61},{"panel":3,"v":100.7,"tb":0.52},{"panel":3,"v":101.6,"tb":0.407},{"panel":3,"v":102.5,"tb":0.257},{"panel":3,"v":103.2,"tb":0.127},{"panel":3,"v":104.1,"tb":0.052},{"panel":3,"v":105,"tb":0.024},{"panel":3,"v":106.1,"tb":0.03},{"panel":3,"v":107.3,"tb":0.037},{"panel":3,"v":108.6,"tb":0.034},{"panel":3,"v":110.5,"tb":0.028},{"panel":3,"v":112.4,"tb":0.024},{"panel":3,"v":114.3,"tb":0.022},{"panel":3,"v":116.2,"tb":0.019},{"panel":3,"v":118.2,"tb":0.019},{"panel":3,"v":120.1,"tb":0.015},{"panel":3,"v":121.3,"tb":0.006},{"panel":3,"v":122.6,"tb":-0.007},{"panel":3,"v":123.9,"tb":-0.013},{"panel":3,"v":125.8,"tb":-0.007},{"panel":3,"v":127.7,"tb":-0.004},{"panel":3,"v":130.3,"tb":0.0},{"panel":3,"v":132.8,"tb":0.0},{"panel":3,"v":135.4,"tb":0.006},{"panel":3,"v":137.9,"tb":0.006},{"panel":3,"v":140.4,"tb":0.006},{"panel":3,"v":143,"tb":0.011},{"panel":3,"v":145.5,"tb":0.011},{"panel":3,"v":148.1,"tb":0.015},{"panel":3,"v":150,"tb":0.015}
    ]
  },
  "vconcat": [
    {
      "width": 523, "height": 232,
      "resolve": {"axis": {"x": "independent", "y": "independent"}},
      "layer": [
        {"data": {"name": "regions"}, "mark": {"type": "rect", "color": "#e5e5e5"},
         "encoding": {
           "x": {"field": "lo", "type": "quantitative", "scale": {"domain": [-50, 150], "nice": false, "zero": false}, "axis": {"orient": "bottom", "values": [-40,-30,-20,-10,10,20,30,40,60,70,80,90,110,120,130,140], "tickSize": -4.5, "labels": false, "title": null}},
           "x2": {"field": "hi"},
           "y": {"datum": -0.1, "type": "quantitative", "scale": {"domain": [-0.1, 1.2], "nice": false, "zero": false}, "axis": {"orient": "left", "values": [-0.05,0.05,0.1,0.15,0.25,0.3,0.35,0.45,0.5,0.55,0.65,0.7,0.75,0.85,0.9,0.95,1.05,1.1,1.15], "tickSize": -4.5, "labels": false, "title": null}},
           "y2": {"datum": 1.18}
         }},
        {"data": {"name": "hiSegments"}, "transform": [{"filter": "datum.panel == 1"}], "mark": {"type": "rule", "strokeWidth": 2.6},
         "encoding": {
           "x": {"field": "from", "type": "quantitative", "scale": {"domain": [-50, 150], "nice": false, "zero": false}, "axis": {"orient": "top", "values": [-40,-30,-20,-10,10,20,30,40,60,70,80,90,110,120,130,140], "tickSize": -4.5, "labels": false, "title": null}},
           "x2": {"field": "to"},
           "y": {"datum": 1.05, "type": "quantitative", "scale": {"domain": [-0.1, 1.2], "nice": false, "zero": false}, "axis": {"orient": "right", "values": [-0.05,0.05,0.1,0.15,0.25,0.3,0.35,0.45,0.5,0.55,0.65,0.7,0.75,0.85,0.9,0.95,1.05,1.1,1.15], "tickSize": -4.5, "labels": false, "title": null}},
           "color": {"field": "series", "type": "nominal", "scale": {"domain": ["HI background to HII region", "Continuum source", "HII region"], "range": ["#1e3cff", "#000000", "#ff0000"]}, "legend": {"title": null, "orient": "none", "legendX": 23, "legendY": -59, "symbolType": "stroke", "symbolSize": 64, "symbolStrokeWidth": 3, "labelFontSize": 13.5, "labelOffset": 6, "labelLimit": 0, "rowPadding": 4, "padding": 0}}
         }},
        {"data": {"name": "continuum"}, "transform": [{"filter": "datum.panel == 1"}], "mark": {"type": "line", "strokeWidth": 1.6, "clip": true},
         "encoding": {
           "x": {"field": "v", "type": "quantitative", "scale": {"domain": [-50, 150], "nice": false, "zero": false}, "axis": {"orient": "bottom", "values": [-50,0,50,100,150], "ticks": false, "tickSize": 0, "labelPadding": 11, "labelFlush": false, "labelExpr": "'' + datum.value", "domain": true, "title": "Velocity (km s⁻¹)", "titlePadding": 3}},
           "y": {"field": "tb", "type": "quantitative", "scale": {"domain": [-0.1, 1.2], "nice": false, "zero": false}, "axis": {"orient": "left", "values": [0,0.2,0.4,0.6,0.8,1.0,1.2], "format": ".1f", "ticks": false, "tickSize": 0, "labelPadding": 6, "labelFlush": true, "domain": true, "title": "Normalized Tʙ Difference", "titlePadding": 10}},
           "color": {"datum": "Continuum source", "type": "nominal", "scale": {"domain": ["HI background to HII region", "Continuum source", "HII region"], "range": ["#1e3cff", "#000000", "#ff0000"]}, "legend": {"title": null, "orient": "none", "legendX": 23, "legendY": -59, "symbolType": "stroke", "symbolSize": 64, "symbolStrokeWidth": 3, "labelFontSize": 13.5, "labelOffset": 6, "labelLimit": 0, "rowPadding": 4, "padding": 0}}
         }},
        {"data": {"name": "hiiRegion"}, "transform": [{"filter": "datum.panel == 1"}], "mark": {"type": "line", "strokeWidth": 1.1, "clip": true},
         "encoding": {
           "x": {"field": "v", "type": "quantitative", "scale": {"domain": [-50, 150], "nice": false, "zero": false}, "axis": {"orient": "bottom", "values": [-50,0,50,100,150], "tickSize": -8, "labels": false, "title": null}},
           "y": {"field": "tb", "type": "quantitative", "scale": {"domain": [-0.1, 1.2], "nice": false, "zero": false}, "axis": {"orient": "left", "values": [0,0.2,0.4,0.6,0.8,1.0,1.2], "tickSize": -8, "labels": false, "title": null}},
           "color": {"datum": "HII region", "type": "nominal", "scale": {"domain": ["HI background to HII region", "Continuum source", "HII region"], "range": ["#1e3cff", "#000000", "#ff0000"]}, "legend": {"title": null, "orient": "none", "legendX": 23, "legendY": -59, "symbolType": "stroke", "symbolSize": 64, "symbolStrokeWidth": 3, "labelFontSize": 13.5, "labelOffset": 6, "labelLimit": 0, "rowPadding": 4, "padding": 0}}
         }},
        {"data": {"name": "markers"}, "transform": [{"filter": "datum.panel == 1"}], "mark": {"type": "rule", "color": "#000000", "strokeWidth": 1.1, "strokeDash": [1.5, 2.5]},
         "encoding": {
           "x": {"field": "v", "type": "quantitative", "scale": {"domain": [-50, 150], "nice": false, "zero": false}, "axis": {"orient": "top", "values": [-50,0,50,100,150], "tickSize": -8, "labels": false, "title": null, "domain": true}}
         }},
        {"data": {"name": "regions"}, "mark": {"type": "text", "align": "left", "baseline": "middle", "dx": 8, "fontSize": 15, "color": "#000000"},
         "encoding": {
           "x": {"field": "lo", "type": "quantitative", "scale": {"domain": [-50, 150], "nice": false, "zero": false}, "axis": null},
           "y": {"datum": 1.105, "type": "quantitative", "scale": {"domain": [-0.1, 1.2], "nice": false, "zero": false}, "axis": {"orient": "right", "values": [0,0.2,0.4,0.6,0.8,1.0,1.2], "tickSize": -8, "labels": false, "title": null, "domain": true}},
           "text": {"field": "label"}
         }},
        {"data": {"name": "sources"}, "transform": [{"filter": "datum.panel == 1"}], "mark": {"type": "text", "align": "left", "baseline": "middle", "fontSize": 19},
         "encoding": {
           "x": {"field": "v", "type": "quantitative", "scale": {"domain": [-50, 150], "nice": false, "zero": false}, "axis": null},
           "y": {"datum": 1.284, "type": "quantitative", "scale": {"domain": [-0.1, 1.2], "nice": false, "zero": false}, "axis": null},
           "text": {"field": "name"},
           "color": {"field": "series", "type": "nominal", "scale": {"domain": ["HI background to HII region", "Continuum source", "HII region"], "range": ["#1e3cff", "#000000", "#ff0000"]}, "legend": null}
         }}
      ]
    },
    {
      "width": 523, "height": 232,
      "resolve": {"axis": {"x": "independent", "y": "independent"}},
      "layer": [
        {"data": {"name": "regions"}, "mark": {"type": "rect", "color": "#e5e5e5"},
         "encoding": {
           "x": {"field": "lo", "type": "quantitative", "scale": {"domain": [-50, 150], "nice": false, "zero": false}, "axis": {"orient": "bottom", "values": [-40,-30,-20,-10,10,20,30,40,60,70,80,90,110,120,130,140], "tickSize": -4.5, "labels": false, "title": null}},
           "x2": {"field": "hi"},
           "y": {"datum": -0.1, "type": "quantitative", "scale": {"domain": [-0.1, 1.2], "nice": false, "zero": false}, "axis": {"orient": "left", "values": [-0.05,0.05,0.1,0.15,0.25,0.3,0.35,0.45,0.5,0.55,0.65,0.7,0.75,0.85,0.9,0.95,1.05,1.1,1.15], "tickSize": -4.5, "labels": false, "title": null}},
           "y2": {"datum": 1.18}
         }},
        {"data": {"name": "hiSegments"}, "transform": [{"filter": "datum.panel == 2"}], "mark": {"type": "rule", "strokeWidth": 2.6},
         "encoding": {
           "x": {"field": "from", "type": "quantitative", "scale": {"domain": [-50, 150], "nice": false, "zero": false}, "axis": {"orient": "top", "values": [-40,-30,-20,-10,10,20,30,40,60,70,80,90,110,120,130,140], "tickSize": -4.5, "labels": false, "title": null}},
           "x2": {"field": "to"},
           "y": {"datum": 1.05, "type": "quantitative", "scale": {"domain": [-0.1, 1.2], "nice": false, "zero": false}, "axis": {"orient": "right", "values": [-0.05,0.05,0.1,0.15,0.25,0.3,0.35,0.45,0.5,0.55,0.65,0.7,0.75,0.85,0.9,0.95,1.05,1.1,1.15], "tickSize": -4.5, "labels": false, "title": null}},
           "color": {"field": "series", "type": "nominal", "scale": {"domain": ["HI background to HII region", "Continuum source", "HII region"], "range": ["#1e3cff", "#000000", "#ff0000"]}, "legend": {"title": null, "orient": "none", "legendX": 23, "legendY": -59, "symbolType": "stroke", "symbolSize": 64, "symbolStrokeWidth": 3, "labelFontSize": 13.5, "labelOffset": 6, "labelLimit": 0, "rowPadding": 4, "padding": 0}}
         }},
        {"data": {"name": "continuum"}, "transform": [{"filter": "datum.panel == 2"}], "mark": {"type": "line", "strokeWidth": 1.6, "clip": true},
         "encoding": {
           "x": {"field": "v", "type": "quantitative", "scale": {"domain": [-50, 150], "nice": false, "zero": false}, "axis": {"orient": "bottom", "values": [-50,0,50,100,150], "ticks": false, "tickSize": 0, "labelPadding": 11, "labelFlush": false, "labelExpr": "'' + datum.value", "domain": true, "title": "Velocity (km s⁻¹)", "titlePadding": 3}},
           "y": {"field": "tb", "type": "quantitative", "scale": {"domain": [-0.1, 1.2], "nice": false, "zero": false}, "axis": {"orient": "left", "values": [0,0.2,0.4,0.6,0.8,1.0,1.2], "format": ".1f", "ticks": false, "tickSize": 0, "labelPadding": 6, "labelFlush": true, "domain": true, "title": "Normalized Tʙ Difference", "titlePadding": 10}},
           "color": {"datum": "Continuum source", "type": "nominal", "scale": {"domain": ["HI background to HII region", "Continuum source", "HII region"], "range": ["#1e3cff", "#000000", "#ff0000"]}, "legend": {"title": null, "orient": "none", "legendX": 23, "legendY": -59, "symbolType": "stroke", "symbolSize": 64, "symbolStrokeWidth": 3, "labelFontSize": 13.5, "labelOffset": 6, "labelLimit": 0, "rowPadding": 4, "padding": 0}}
         }},
        {"data": {"name": "hiiRegion"}, "transform": [{"filter": "datum.panel == 2"}], "mark": {"type": "line", "strokeWidth": 1.1, "clip": true},
         "encoding": {
           "x": {"field": "v", "type": "quantitative", "scale": {"domain": [-50, 150], "nice": false, "zero": false}, "axis": {"orient": "bottom", "values": [-50,0,50,100,150], "tickSize": -8, "labels": false, "title": null}},
           "y": {"field": "tb", "type": "quantitative", "scale": {"domain": [-0.1, 1.2], "nice": false, "zero": false}, "axis": {"orient": "left", "values": [0,0.2,0.4,0.6,0.8,1.0,1.2], "tickSize": -8, "labels": false, "title": null}},
           "color": {"datum": "HII region", "type": "nominal", "scale": {"domain": ["HI background to HII region", "Continuum source", "HII region"], "range": ["#1e3cff", "#000000", "#ff0000"]}, "legend": {"title": null, "orient": "none", "legendX": 23, "legendY": -59, "symbolType": "stroke", "symbolSize": 64, "symbolStrokeWidth": 3, "labelFontSize": 13.5, "labelOffset": 6, "labelLimit": 0, "rowPadding": 4, "padding": 0}}
         }},
        {"data": {"name": "markers"}, "transform": [{"filter": "datum.panel == 2"}], "mark": {"type": "rule", "color": "#000000", "strokeWidth": 1.1, "strokeDash": [1.5, 2.5]},
         "encoding": {
           "x": {"field": "v", "type": "quantitative", "scale": {"domain": [-50, 150], "nice": false, "zero": false}, "axis": {"orient": "top", "values": [-50,0,50,100,150], "tickSize": -8, "labels": false, "title": null, "domain": true}}
         }},
        {"data": {"name": "regions"}, "mark": {"type": "text", "align": "left", "baseline": "middle", "dx": 8, "fontSize": 15, "color": "#000000"},
         "encoding": {
           "x": {"field": "lo", "type": "quantitative", "scale": {"domain": [-50, 150], "nice": false, "zero": false}, "axis": null},
           "y": {"datum": 1.105, "type": "quantitative", "scale": {"domain": [-0.1, 1.2], "nice": false, "zero": false}, "axis": {"orient": "right", "values": [0,0.2,0.4,0.6,0.8,1.0,1.2], "tickSize": -8, "labels": false, "title": null, "domain": true}},
           "text": {"field": "label"}
         }},
        {"data": {"name": "sources"}, "transform": [{"filter": "datum.panel == 2"}], "mark": {"type": "text", "align": "left", "baseline": "middle", "fontSize": 19},
         "encoding": {
           "x": {"field": "v", "type": "quantitative", "scale": {"domain": [-50, 150], "nice": false, "zero": false}, "axis": null},
           "y": {"datum": 1.284, "type": "quantitative", "scale": {"domain": [-0.1, 1.2], "nice": false, "zero": false}, "axis": null},
           "text": {"field": "name"},
           "color": {"field": "series", "type": "nominal", "scale": {"domain": ["HI background to HII region", "Continuum source", "HII region"], "range": ["#1e3cff", "#000000", "#ff0000"]}, "legend": null}
         }}
      ]
    },
    {
      "width": 523, "height": 232,
      "resolve": {"axis": {"x": "independent", "y": "independent"}},
      "layer": [
        {"data": {"name": "regions"}, "mark": {"type": "rect", "color": "#e5e5e5"},
         "encoding": {
           "x": {"field": "lo", "type": "quantitative", "scale": {"domain": [-50, 150], "nice": false, "zero": false}, "axis": {"orient": "bottom", "values": [-40,-30,-20,-10,10,20,30,40,60,70,80,90,110,120,130,140], "tickSize": -4.5, "labels": false, "title": null}},
           "x2": {"field": "hi"},
           "y": {"datum": -0.1, "type": "quantitative", "scale": {"domain": [-0.1, 1.2], "nice": false, "zero": false}, "axis": {"orient": "left", "values": [-0.05,0.05,0.1,0.15,0.25,0.3,0.35,0.45,0.5,0.55,0.65,0.7,0.75,0.85,0.9,0.95,1.05,1.1,1.15], "tickSize": -4.5, "labels": false, "title": null}},
           "y2": {"datum": 1.18}
         }},
        {"data": {"name": "hiSegments"}, "transform": [{"filter": "datum.panel == 3"}], "mark": {"type": "rule", "strokeWidth": 2.6},
         "encoding": {
           "x": {"field": "from", "type": "quantitative", "scale": {"domain": [-50, 150], "nice": false, "zero": false}, "axis": {"orient": "top", "values": [-40,-30,-20,-10,10,20,30,40,60,70,80,90,110,120,130,140], "tickSize": -4.5, "labels": false, "title": null}},
           "x2": {"field": "to"},
           "y": {"datum": 1.05, "type": "quantitative", "scale": {"domain": [-0.1, 1.2], "nice": false, "zero": false}, "axis": {"orient": "right", "values": [-0.05,0.05,0.1,0.15,0.25,0.3,0.35,0.45,0.5,0.55,0.65,0.7,0.75,0.85,0.9,0.95,1.05,1.1,1.15], "tickSize": -4.5, "labels": false, "title": null}},
           "color": {"field": "series", "type": "nominal", "scale": {"domain": ["HI background to HII region", "Continuum source", "HII region"], "range": ["#1e3cff", "#000000", "#ff0000"]}, "legend": {"title": null, "orient": "none", "legendX": 23, "legendY": -59, "symbolType": "stroke", "symbolSize": 64, "symbolStrokeWidth": 3, "labelFontSize": 13.5, "labelOffset": 6, "labelLimit": 0, "rowPadding": 4, "padding": 0}}
         }},
        {"data": {"name": "continuum"}, "transform": [{"filter": "datum.panel == 3"}], "mark": {"type": "line", "strokeWidth": 1.6, "clip": true},
         "encoding": {
           "x": {"field": "v", "type": "quantitative", "scale": {"domain": [-50, 150], "nice": false, "zero": false}, "axis": {"orient": "bottom", "values": [-50,0,50,100,150], "ticks": false, "tickSize": 0, "labelPadding": 11, "labelFlush": false, "labelExpr": "'' + datum.value", "domain": true, "title": "Velocity (km s⁻¹)", "titlePadding": 3}},
           "y": {"field": "tb", "type": "quantitative", "scale": {"domain": [-0.1, 1.2], "nice": false, "zero": false}, "axis": {"orient": "left", "values": [0,0.2,0.4,0.6,0.8,1.0,1.2], "format": ".1f", "ticks": false, "tickSize": 0, "labelPadding": 6, "labelFlush": true, "domain": true, "title": "Normalized Tʙ Difference", "titlePadding": 10}},
           "color": {"datum": "Continuum source", "type": "nominal", "scale": {"domain": ["HI background to HII region", "Continuum source", "HII region"], "range": ["#1e3cff", "#000000", "#ff0000"]}, "legend": {"title": null, "orient": "none", "legendX": 23, "legendY": -59, "symbolType": "stroke", "symbolSize": 64, "symbolStrokeWidth": 3, "labelFontSize": 13.5, "labelOffset": 6, "labelLimit": 0, "rowPadding": 4, "padding": 0}}
         }},
        {"data": {"name": "hiiRegion"}, "transform": [{"filter": "datum.panel == 3"}], "mark": {"type": "line", "strokeWidth": 1.1, "clip": true},
         "encoding": {
           "x": {"field": "v", "type": "quantitative", "scale": {"domain": [-50, 150], "nice": false, "zero": false}, "axis": {"orient": "bottom", "values": [-50,0,50,100,150], "tickSize": -8, "labels": false, "title": null}},
           "y": {"field": "tb", "type": "quantitative", "scale": {"domain": [-0.1, 1.2], "nice": false, "zero": false}, "axis": {"orient": "left", "values": [0,0.2,0.4,0.6,0.8,1.0,1.2], "tickSize": -8, "labels": false, "title": null}},
           "color": {"datum": "HII region", "type": "nominal", "scale": {"domain": ["HI background to HII region", "Continuum source", "HII region"], "range": ["#1e3cff", "#000000", "#ff0000"]}, "legend": {"title": null, "orient": "none", "legendX": 23, "legendY": -59, "symbolType": "stroke", "symbolSize": 64, "symbolStrokeWidth": 3, "labelFontSize": 13.5, "labelOffset": 6, "labelLimit": 0, "rowPadding": 4, "padding": 0}}
         }},
        {"data": {"name": "markers"}, "transform": [{"filter": "datum.panel == 3"}], "mark": {"type": "rule", "color": "#000000", "strokeWidth": 1.1, "strokeDash": [1.5, 2.5]},
         "encoding": {
           "x": {"field": "v", "type": "quantitative", "scale": {"domain": [-50, 150], "nice": false, "zero": false}, "axis": {"orient": "top", "values": [-50,0,50,100,150], "tickSize": -8, "labels": false, "title": null, "domain": true}}
         }},
        {"data": {"name": "regions"}, "mark": {"type": "text", "align": "left", "baseline": "middle", "dx": 8, "fontSize": 15, "color": "#000000"},
         "encoding": {
           "x": {"field": "lo", "type": "quantitative", "scale": {"domain": [-50, 150], "nice": false, "zero": false}, "axis": null},
           "y": {"datum": 1.105, "type": "quantitative", "scale": {"domain": [-0.1, 1.2], "nice": false, "zero": false}, "axis": {"orient": "right", "values": [0,0.2,0.4,0.6,0.8,1.0,1.2], "tickSize": -8, "labels": false, "title": null, "domain": true}},
           "text": {"field": "label"}
         }},
        {"data": {"name": "sources"}, "transform": [{"filter": "datum.panel == 3"}], "mark": {"type": "text", "align": "left", "baseline": "middle", "fontSize": 19},
         "encoding": {
           "x": {"field": "v", "type": "quantitative", "scale": {"domain": [-50, 150], "nice": false, "zero": false}, "axis": null},
           "y": {"datum": 1.284, "type": "quantitative", "scale": {"domain": [-0.1, 1.2], "nice": false, "zero": false}, "axis": null},
           "text": {"field": "name"},
           "color": {"field": "series", "type": "nominal", "scale": {"domain": ["HI background to HII region", "Continuum source", "HII region"], "range": ["#1e3cff", "#000000", "#ff0000"]}, "legend": null}
         }}
      ]
    }
  ],
  "config": {
    "font": "Liberation Sans",
    "view": {"stroke": null},
    "axis": {"grid": false, "domain": false, "domainColor": "#000000", "domainWidth": 1.6, "zindex": 1, "tickColor": "#333333", "tickWidth": 1.3, "labelFont": "Liberation Sans", "labelFontSize": 18, "labelColor": "#000000", "titleFont": "Liberation Sans", "titleFontSize": 18, "titleFontWeight": "normal", "titleColor": "#000000"},
    "legend": {"labelFont": "Liberation Sans", "labelColor": "#000000", "labelLimit": 0},
    "text": {"font": "Liberation Sans"}
  }
}
